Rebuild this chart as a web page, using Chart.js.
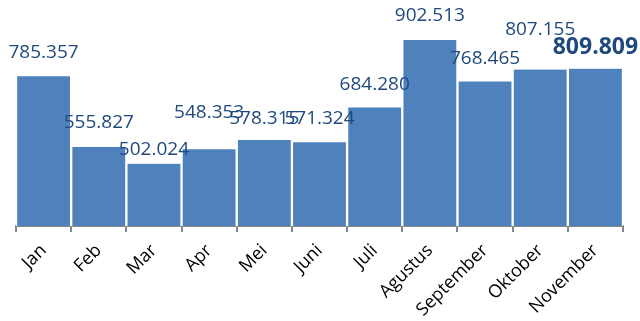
<!DOCTYPE html>
<html>
<head>
<meta charset="utf-8">
<script src="https://cdn.jsdelivr.net/npm/chart.js@4/dist/chart.umd.min.js"></script>
<style>
    html, body { margin: 0; padding: 0; background: #fff; }
    #wrap { width: 640px; height: 321px; }
</style>
</head>
<body>
<div id="wrap"><canvas id="salesChart"></canvas></div>
<script>
// Monthly totals
const months = ['Jan', 'Feb', 'Mar', 'Apr', 'Mei', 'Juni', 'Juli', 'Agustus', 'September', 'Oktober', 'November'];
const totals = [785.357, 555.827, 502.024, 548.353, 578.315, 571.324, 684.280, 902.513, 768.465, 807.155, 809.809];

// how far each value label sits above its bar (px)
const labelLift = [24, 24, 14, 37, 22, 24, 23, 24, 23, 40, 21];
const highlightIndex = 10;

function formatValue(v) {
    return v.toFixed(3);
}

// Draws the value above each bar
const valueLabels = {
    id: 'valueLabels',
    afterDatasetsDraw(chart) {
        const ctx = chart.ctx;
        const meta = chart.getDatasetMeta(0);
        ctx.save();
        ctx.textAlign = 'center';
        ctx.textBaseline = 'middle';
        ctx.fillStyle = '#1F497D';
        meta.data.forEach((bar, i) => {
            if (i === highlightIndex) {
                ctx.font = 'bold 23px "Open Sans"';
            } else {
                ctx.font = '19px "Open Sans"';
            }
            ctx.fillText(formatValue(totals[i]), bar.x, bar.y - labelLift[i]);
        });
        ctx.restore();
    }
};

const ctx = document.getElementById('salesChart').getContext('2d');
new Chart(ctx, {
    type: 'bar',
    data: {
        labels: months,
        datasets: [{
            data: totals,
            backgroundColor: '#4F81BD',
            borderColor: '#ffffff',
            borderWidth: { left: 1.5, right: 1.5, top: 0, bottom: 0 },
            borderSkipped: false,
            categoryPercentage: 1,
            barPercentage: 1
        }]
    },
    options: {
        responsive: true,
        maintainAspectRatio: false,
        animation: false,
        layout: { padding: { top: 10, left: 16, right: 17, bottom: 0 } },
        plugins: {
            legend: { display: false },
            tooltip: { enabled: false }
        },
        scales: {
            y: {
                display: false,
                min: 300,
                max: 1000
            },
            x: {
                offset: true,
                // keep the axis band fixed so the baseline lands at the same spot
                afterFit(scale) {
                    scale.height = 95;
                },
                border: { display: true, color: '#878787', width: 2 },
                grid: {
                    offset: true,
                    drawOnChartArea: false,
                    drawTicks: true,
                    tickLength: 6,
                    color: '#878787',
                    lineWidth: 2
                },
                ticks: {
                    minRotation: 45,
                    maxRotation: 45,
                    color: '#000',
                    padding: 8,
                    font: { family: '"Open Sans"', size: 18 }
                }
            }
        }
    },
    plugins: [valueLabels]
});
</script>
</body>
</html>
